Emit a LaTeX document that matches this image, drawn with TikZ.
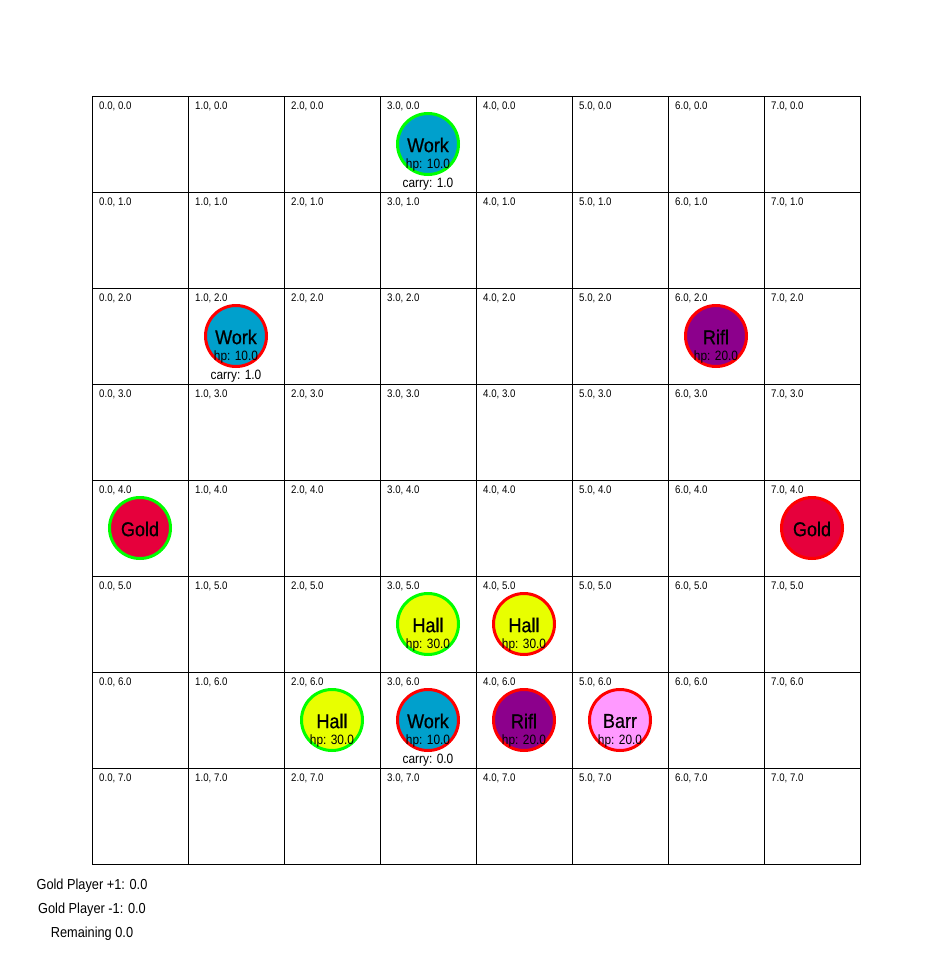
\documentclass[tikz,border=0pt]{standalone}
\usepackage{fontspec}
\setmainfont{Liberation Sans}
\newfontfamily\narrowfont[FakeStretch=0.88]{Liberation Sans}
\newfontfamily\titlefont[FakeStretch=0.9,FakeBold=0.6]{Liberation Sans}
\definecolor{workc}{RGB}{0,160,204}
\definecolor{goldc}{RGB}{230,0,60}
\definecolor{hallc}{RGB}{232,255,0}
\definecolor{riflc}{RGB}{140,0,140}
\definecolor{barrc}{RGB}{255,153,255}
\definecolor{own}{RGB}{0,255,0}
\definecolor{opp}{RGB}{255,0,0}
\usetikzlibrary{calc}
\tikzset{
  cell/.style={draw=black, line width=0.8pt, minimum size=96pt, inner sep=0pt, outer sep=0pt},
  lbl/.style={anchor=west, inner sep=0pt, font=\narrowfont\fontsize{11}{13}\selectfont},
  unitc/.style={circle, line width=3pt, minimum size=61pt, inner sep=0pt},
  title/.style={inner sep=0pt, font=\titlefont\fontsize{20}{24}\selectfont},
  stat/.style={inner sep=0pt, font=\narrowfont\fontsize{13.5}{16}\selectfont},
  info/.style={inner sep=0pt, font=\narrowfont\fontsize{14.5}{17}\selectfont}
}
\newcommand\putunit[5]{%
  \node[unitc, fill=#3, draw=#4] (u#1#2) at ({92+96*#1+48},{96+96*#2+48}) {};
  \node[title] (t#1#2) at ($(u#1#2)+(0,1)$) {#5};
}
\newcommand\puthp[3]{\node[stat] (h#1#2) at ($(u#1#2)+(0,21)$) {hp: #3};}
\newcommand\putcarry[3]{\node[stat] (k#1#2) at ($(u#1#2)+(0,40)$) {carry: #3};}
\begin{document}
\begin{tikzpicture}[x=1pt,y=-1pt]
\useasboundingbox[fill=white] (0,0) rectangle (952,953);
\foreach \i in {0,...,7} {
  \foreach \j in {0,...,7} {
    \node[cell] (c\i\j) at ({92+96*\i+48},{96+96*\j+48}) {};
    \node[lbl] (l\i\j) at ({92+96*\i+7},{96+96*\j+10}) {\i.0, \j.0};
  }
}
\putunit{3}{0}{workc}{own}{Work}\puthp{3}{0}{10.0}\putcarry{3}{0}{1.0}
\putunit{1}{2}{workc}{opp}{Work}\puthp{1}{2}{10.0}\putcarry{1}{2}{1.0}
\putunit{6}{2}{riflc}{opp}{Rifl}\puthp{6}{2}{20.0}
\putunit{0}{4}{goldc}{own}{Gold}
\putunit{7}{4}{goldc}{opp}{Gold}
\putunit{3}{5}{hallc}{own}{Hall}\puthp{3}{5}{30.0}
\putunit{4}{5}{hallc}{opp}{Hall}\puthp{4}{5}{30.0}
\putunit{2}{6}{hallc}{own}{Hall}\puthp{2}{6}{30.0}
\putunit{3}{6}{workc}{opp}{Work}\puthp{3}{6}{10.0}\putcarry{3}{6}{0.0}
\putunit{4}{6}{riflc}{opp}{Rifl}\puthp{4}{6}{20.0}
\putunit{5}{6}{barrc}{opp}{Barr}\puthp{5}{6}{20.0}
\node[info] (g1) at (92,886) {Gold Player +1: 0.0};
\node[info] (g2) at (92,910) {Gold Player -1: 0.0};
\node[info] (rem) at (92,934) {Remaining 0.0};
\end{tikzpicture}
\end{document}
